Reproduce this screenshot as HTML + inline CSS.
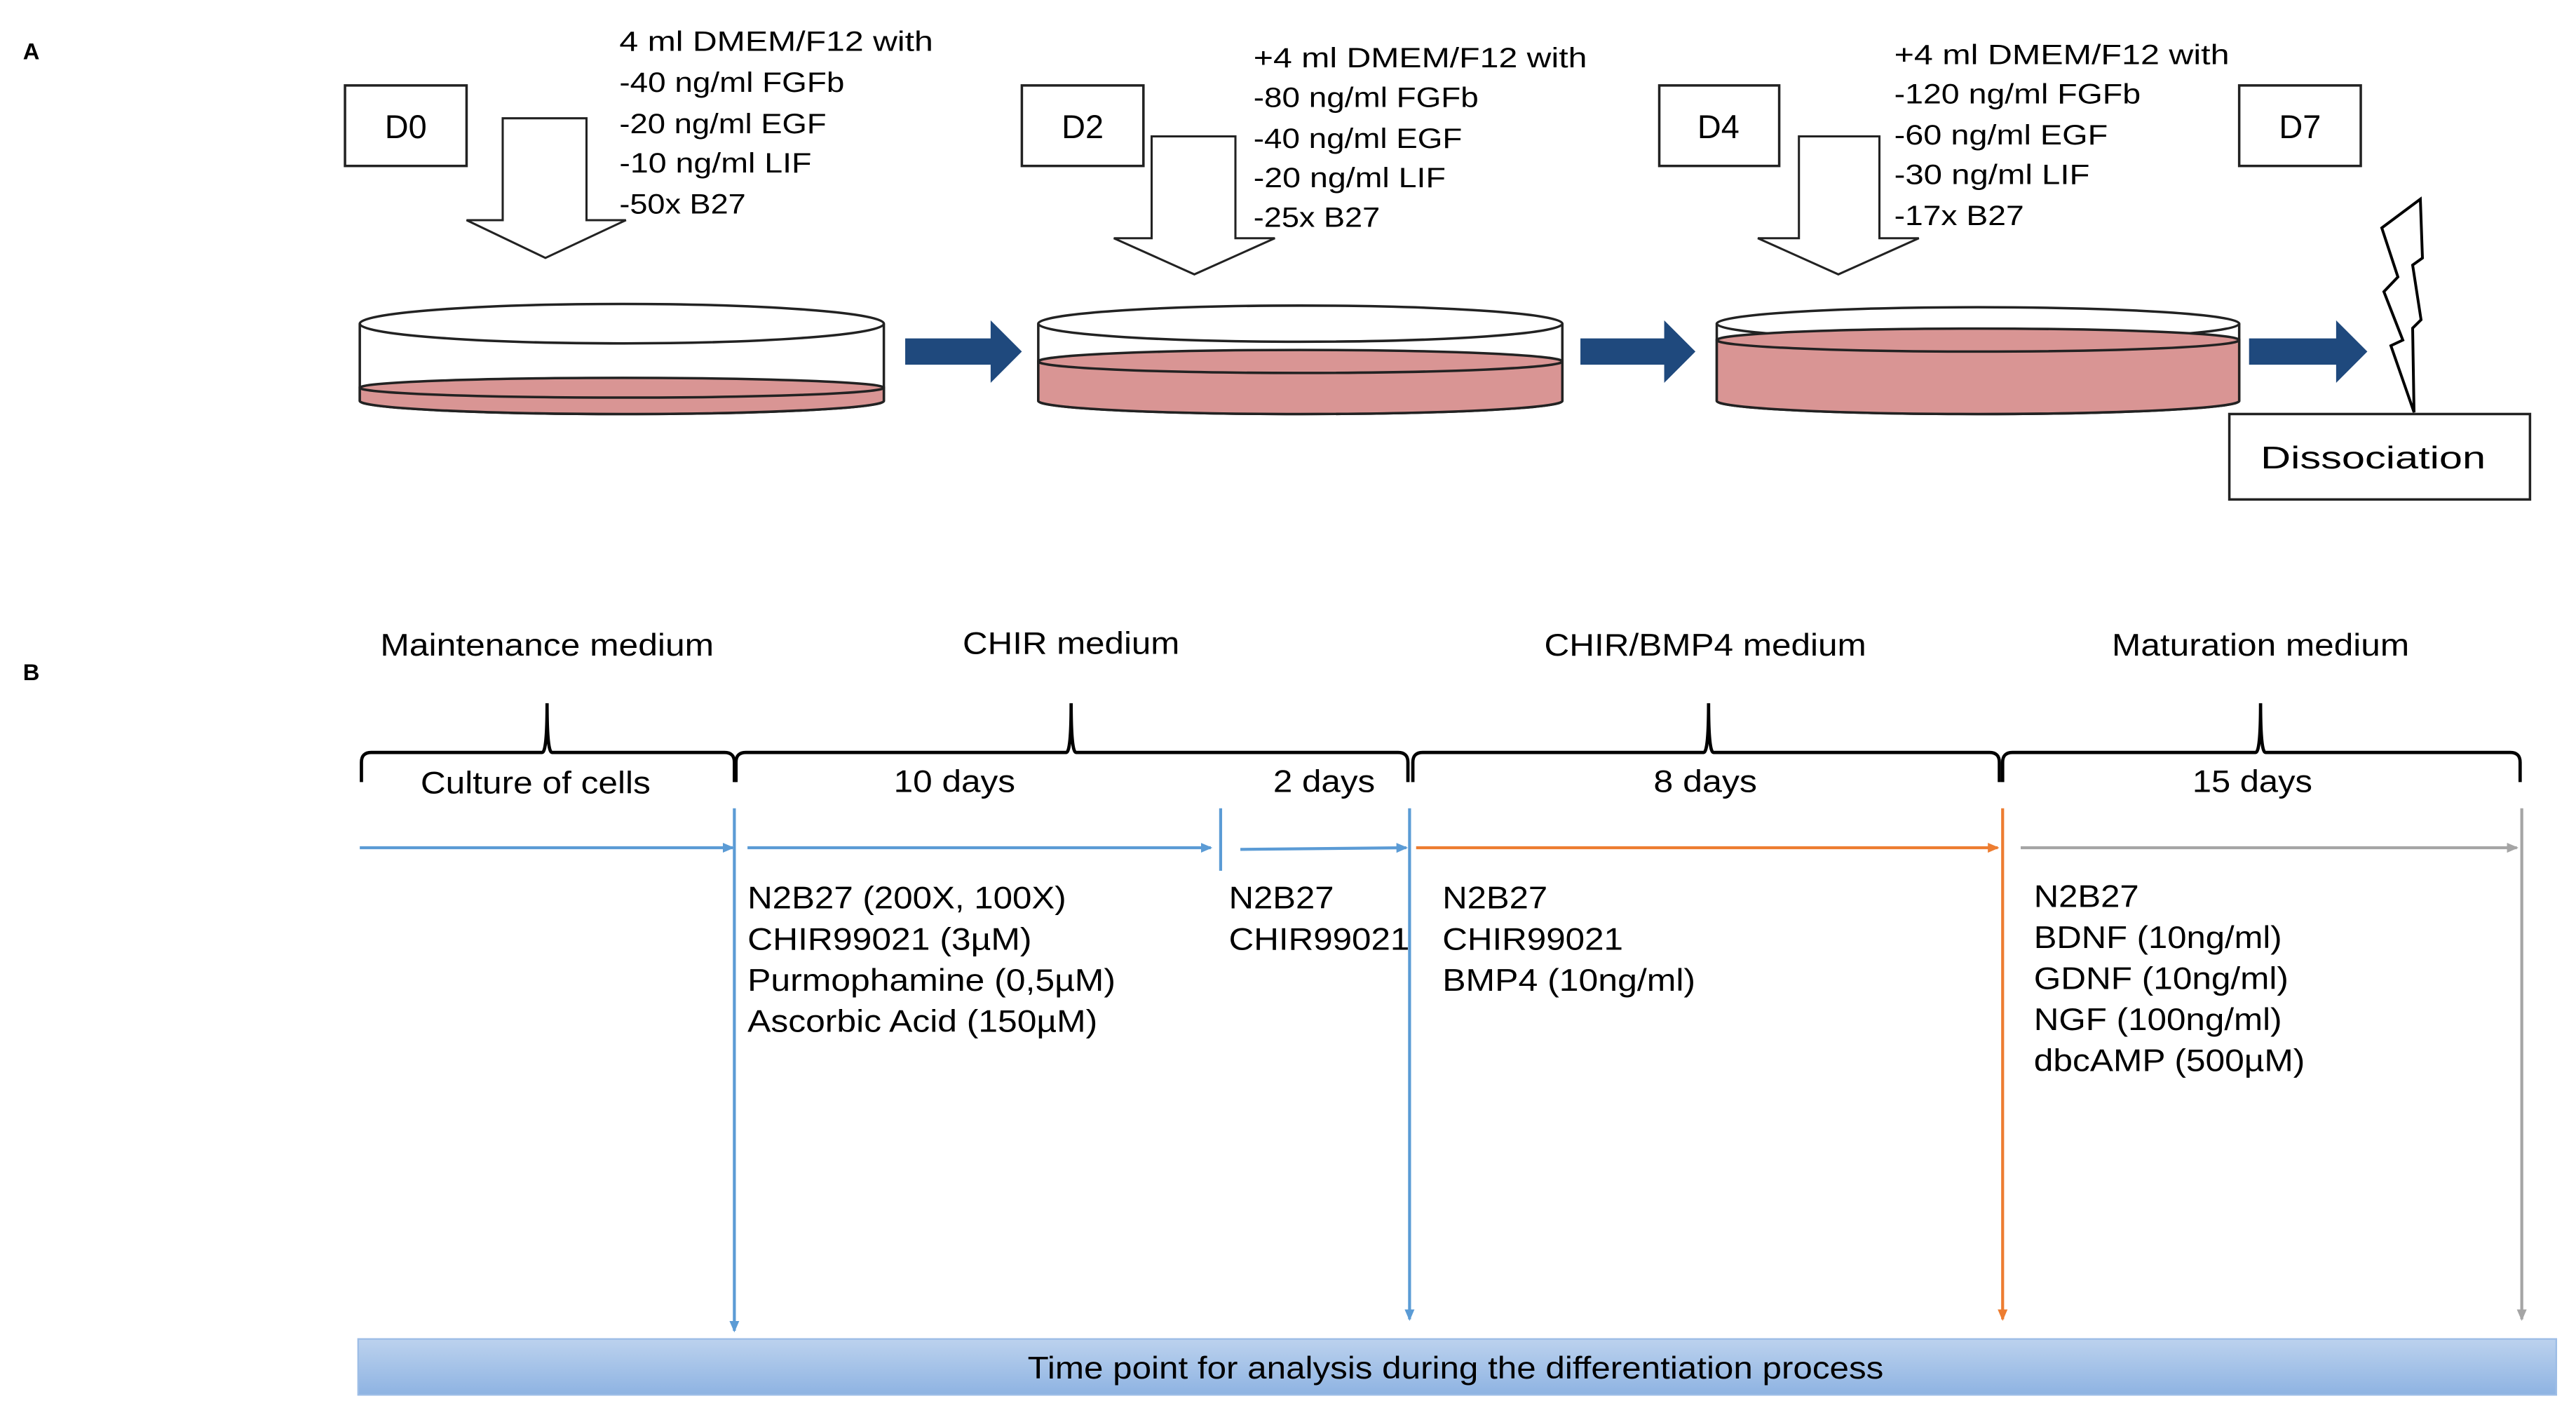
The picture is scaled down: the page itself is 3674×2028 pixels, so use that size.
<!DOCTYPE html>
<html><head><meta charset="utf-8"><style>html,body{margin:0;padding:0;background:#fff}svg{display:block}</style></head>
<body>
<svg width="3674" height="2028" viewBox="0 0 3674 2028" xmlns="http://www.w3.org/2000/svg">
<defs>
<linearGradient id="bar" x1="0" y1="0" x2="0" y2="1"><stop offset="0" stop-color="#bcd2ee"/><stop offset="1" stop-color="#8eb3e2"/></linearGradient>
<marker id="mb" markerWidth="8" markerHeight="8" refX="6" refY="4" orient="auto" markerUnits="userSpaceOnUse"><path d="M0,1 L7,4 L0,7 Z" fill="#5b9bd5"/></marker>
<marker id="mo" markerWidth="8" markerHeight="8" refX="6" refY="4" orient="auto" markerUnits="userSpaceOnUse"><path d="M0,1 L7,4 L0,7 Z" fill="#ed7d31"/></marker>
<marker id="mg" markerWidth="8" markerHeight="8" refX="6" refY="4" orient="auto" markerUnits="userSpaceOnUse"><path d="M0,1 L7,4 L0,7 Z" fill="#a5a5a5"/></marker>
</defs>
<rect width="3674" height="2028" fill="#fff"/>
<path d="M3452,284 L3397,325 L3420,395 L3400,416 L3427,485 L3410,493 L3443,588 L3441,468 L3453,456 L3441,378 L3455,368 Z" fill="#fff" stroke="#000" stroke-width="4"/>
<g transform="scale(2.3431)" font-family="Liberation Sans, Arial, sans-serif" fill="#000">
<text x="14" y="36" font-size="14" font-weight="bold">A</text>
<text x="14" y="414" font-size="14" font-weight="bold">B</text>
<g fill="#fff" stroke="#222" stroke-width="1.5">
<rect x="210" y="52" width="74" height="49"/><rect x="622" y="52" width="74" height="49"/>
<rect x="1010" y="52" width="73" height="49"/><rect x="1363" y="52" width="74" height="49"/>
<rect x="1357" y="252" width="183" height="52"/>
</g>
<g font-size="20" text-anchor="middle"><text x="247" y="84">D0</text><text x="659" y="84">D2</text><text x="1046" y="84">D4</text><text x="1400" y="84">D7</text></g>
<text x="1376" y="285" font-size="19" textLength="137" lengthAdjust="spacingAndGlyphs">Dissociation</text>
<g fill="#fff" stroke="#222" stroke-width="1.3">
<path d="M306,72 H357 V134 H381 L332,157 L284,134 H306 Z"/>
<path d="M701,83 H752 V145 H776 L727,167 L678,145 H701 Z"/>
<path d="M1095,83 H1144 V145 H1168 L1119,167 L1070,145 H1095 Z"/>
</g>
<g font-size="17">
<text x="377" y="31" textLength="191" lengthAdjust="spacingAndGlyphs">4 ml DMEM/F12 with</text>
<text x="377" y="56" textLength="137" lengthAdjust="spacingAndGlyphs">-40 ng/ml FGFb</text>
<text x="377" y="81" textLength="126" lengthAdjust="spacingAndGlyphs">-20 ng/ml EGF</text>
<text x="377" y="105" textLength="117" lengthAdjust="spacingAndGlyphs">-10 ng/ml LIF</text>
<text x="377" y="130" textLength="77" lengthAdjust="spacingAndGlyphs">-50x B27</text>
<text x="763" y="41" textLength="203" lengthAdjust="spacingAndGlyphs">+4 ml DMEM/F12 with</text>
<text x="763" y="65" textLength="137" lengthAdjust="spacingAndGlyphs">-80 ng/ml FGFb</text>
<text x="763" y="90" textLength="127" lengthAdjust="spacingAndGlyphs">-40 ng/ml EGF</text>
<text x="763" y="114" textLength="117" lengthAdjust="spacingAndGlyphs">-20 ng/ml LIF</text>
<text x="763" y="138" textLength="77" lengthAdjust="spacingAndGlyphs">-25x B27</text>
<text x="1153" y="39" textLength="204" lengthAdjust="spacingAndGlyphs">+4 ml DMEM/F12 with</text>
<text x="1153" y="63" textLength="150" lengthAdjust="spacingAndGlyphs">-120 ng/ml FGFb</text>
<text x="1153" y="88" textLength="130" lengthAdjust="spacingAndGlyphs">-60 ng/ml EGF</text>
<text x="1153" y="112" textLength="119" lengthAdjust="spacingAndGlyphs">-30 ng/ml LIF</text>
<text x="1153" y="137" textLength="79" lengthAdjust="spacingAndGlyphs">-17x B27</text>
</g>
<g stroke="#222" stroke-width="1.5">
<path d="M219,197 V244 A159.5,8 0 0 0 538,244 V197" fill="#fff"/>
<path d="M219,236 V244 A159.5,8 0 0 0 538,244 V236 Z" fill="#d99594"/>
<ellipse cx="378.5" cy="236" rx="159.5" ry="6" fill="#d99594"/>
<ellipse cx="378.5" cy="197" rx="159.5" ry="12" fill="#fff"/>
<path d="M632,197 V244 A159.5,8 0 0 0 951,244 V197" fill="#fff"/>
<path d="M632,220 V244 A159.5,8 0 0 0 951,244 V220 Z" fill="#d99594"/>
<ellipse cx="791.5" cy="220" rx="159.5" ry="7" fill="#d99594"/>
<ellipse cx="791.5" cy="197" rx="159.5" ry="11" fill="#fff"/>
<path d="M1045,197 V244 A159,8 0 0 0 1363,244 V197" fill="#fff"/>
<path d="M1045,207 V244 A159,8 0 0 0 1363,244 V207 Z" fill="#d99594"/>
<ellipse cx="1204" cy="197" rx="159" ry="10" fill="#fff"/>
<ellipse cx="1204" cy="207" rx="159" ry="7" fill="#d99594"/>
</g>
<g fill="#1f497d">
<path d="M551,206 H603 V195 L622,214 L603,233 V222 H551 Z"/>
<path d="M962,206 H1013 V195 L1032,214 L1013,233 V222 H962 Z"/>
<path d="M1369,206 H1422 V195 L1441,214 L1422,233 V222 H1369 Z"/>
</g>
<g font-size="19" text-anchor="middle">
<text x="333" y="399" textLength="203" lengthAdjust="spacingAndGlyphs">Maintenance medium</text>
<text x="652" y="398" textLength="132" lengthAdjust="spacingAndGlyphs">CHIR medium</text>
<text x="1038" y="399" textLength="196" lengthAdjust="spacingAndGlyphs">CHIR/BMP4 medium</text>
<text x="1376" y="399" textLength="181" lengthAdjust="spacingAndGlyphs">Maturation medium</text>
<text x="326" y="483" textLength="140" lengthAdjust="spacingAndGlyphs">Culture of cells</text>
<text x="581" y="482" textLength="74" lengthAdjust="spacingAndGlyphs">10 days</text>
<text x="806" y="482" textLength="62" lengthAdjust="spacingAndGlyphs">2 days</text>
<text x="1038" y="482" textLength="63" lengthAdjust="spacingAndGlyphs">8 days</text>
<text x="1371" y="482" textLength="73" lengthAdjust="spacingAndGlyphs">15 days</text>
</g>
<g fill="none" stroke="#000" stroke-width="2">
<path d="M220,476 V464 Q220,458 226,458 H330 Q333,458 333,428 Q333,458 336,458 H441 Q447,458 447,464 V476"/>
<path d="M448,476 V464 Q448,458 454,458 H649 Q652,458 652,428 Q652,458 655,458 H851 Q857,458 857,464 V476"/>
<path d="M860,476 V464 Q860,458 866,458 H1037 Q1040,458 1040,428 Q1040,458 1043,458 H1211 Q1217,458 1217,464 V476"/>
<path d="M1219,476 V464 Q1219,458 1225,458 H1373 Q1376,458 1376,428 Q1376,458 1379,458 H1528 Q1534,458 1534,464 V476"/>
</g>
<g stroke-width="1.8" fill="none">
<line x1="219" y1="516" x2="446" y2="516" stroke="#5b9bd5" marker-end="url(#mb)"/>
<line x1="455" y1="516" x2="737" y2="516" stroke="#5b9bd5" marker-end="url(#mb)"/>
<line x1="755" y1="517" x2="856" y2="516" stroke="#5b9bd5" marker-end="url(#mb)"/>
<line x1="862" y1="516" x2="1216" y2="516" stroke="#ed7d31" marker-end="url(#mo)"/>
<line x1="1230" y1="516" x2="1532" y2="516" stroke="#a5a5a5" marker-end="url(#mg)"/>
<line x1="447" y1="492" x2="447" y2="810" stroke="#5b9bd5" marker-end="url(#mb)"/>
<line x1="743" y1="492" x2="743" y2="530" stroke="#5b9bd5"/>
<line x1="858" y1="492" x2="858" y2="803" stroke="#5b9bd5" marker-end="url(#mb)"/>
<line x1="1219" y1="492" x2="1219" y2="803" stroke="#ed7d31" marker-end="url(#mo)"/>
<line x1="1535" y1="492" x2="1535" y2="803" stroke="#a5a5a5" marker-end="url(#mg)"/>
</g>
<g font-size="19">
<text x="455" y="553" textLength="194" lengthAdjust="spacingAndGlyphs">N2B27 (200X, 100X)</text>
<text x="455" y="578" textLength="173" lengthAdjust="spacingAndGlyphs">CHIR99021 (3µM)</text>
<text x="455" y="603" textLength="224" lengthAdjust="spacingAndGlyphs">Purmophamine (0,5µM)</text>
<text x="455" y="628" textLength="213" lengthAdjust="spacingAndGlyphs">Ascorbic Acid (150µM)</text>
<text x="748" y="553" textLength="64" lengthAdjust="spacingAndGlyphs">N2B27</text>
<text x="748" y="578" textLength="110" lengthAdjust="spacingAndGlyphs">CHIR99021</text>
<text x="878" y="553" textLength="64" lengthAdjust="spacingAndGlyphs">N2B27</text>
<text x="878" y="578" textLength="110" lengthAdjust="spacingAndGlyphs">CHIR99021</text>
<text x="878" y="603" textLength="154" lengthAdjust="spacingAndGlyphs">BMP4 (10ng/ml)</text>
<text x="1238" y="552" textLength="64" lengthAdjust="spacingAndGlyphs">N2B27</text>
<text x="1238" y="577" textLength="151" lengthAdjust="spacingAndGlyphs">BDNF (10ng/ml)</text>
<text x="1238" y="602" textLength="155" lengthAdjust="spacingAndGlyphs">GDNF (10ng/ml)</text>
<text x="1238" y="627" textLength="151" lengthAdjust="spacingAndGlyphs">NGF (100ng/ml)</text>
<text x="1238" y="652" textLength="165" lengthAdjust="spacingAndGlyphs">dbcAMP (500µM)</text>
</g>
<rect x="218" y="815" width="1338" height="34" fill="url(#bar)" stroke="#9dbde6" stroke-width="1"/>
<text x="886" y="839" font-size="19" text-anchor="middle" textLength="521" lengthAdjust="spacingAndGlyphs">Time point for analysis during the differentiation process</text>
</g>
</svg>
</body></html>
